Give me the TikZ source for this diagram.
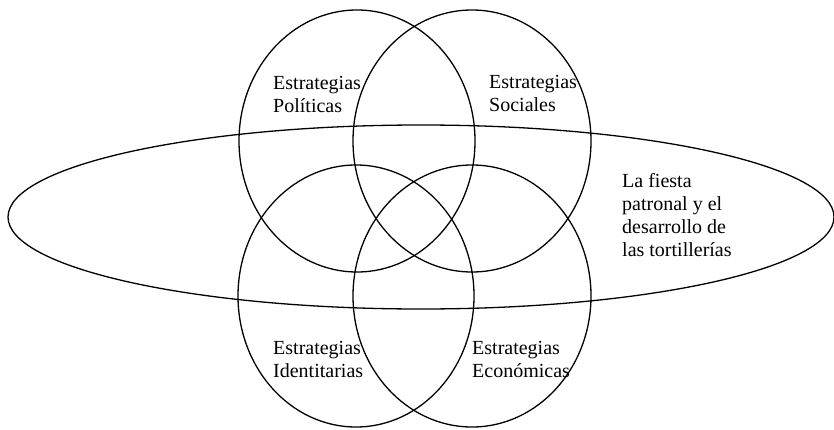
\documentclass[tikz,border=0pt]{standalone}
\usepackage{fontspec}
\setmainfont{Liberation Serif}
\usetikzlibrary{shapes.geometric}
\begin{document}
\begin{tikzpicture}[x=1pt,y=1pt,
  ring/.style={draw=black, line width=1.3pt, ellipse, inner sep=0pt, outer sep=0pt},
  lbl/.style={anchor=base west, align=left, inner sep=0pt, font=\fontsize{20}{23}\selectfont}]
\useasboundingbox (0,0) rectangle (834,429);
\node[ring, minimum width=826pt, minimum height=184pt] (fiesta) at (421,212) {};
\node[ring, minimum width=236pt, minimum height=262pt] (pol) at (357,288) {};
\node[ring, minimum width=238pt, minimum height=262pt] (soc) at (472,288) {};
\node[ring, minimum width=236pt, minimum height=262pt] (ide) at (356,133) {};
\node[ring, minimum width=238pt, minimum height=262pt] (eco) at (472,133) {};
\node[lbl] (tpol) at (273,316) {Estrategias\\Políticas};
\node[lbl] (tsoc) at (489,317) {Estrategias\\Sociales};
\node[lbl] (tide) at (273,52) {Estrategias\\Identitarias};
\node[lbl] (teco) at (472,52) {Estrategias\\Económicas};
\node[lbl] (tfie) at (622,173) {La fiesta\\patronal y el\\desarrollo de\\las tortillerías};
\end{tikzpicture}
\end{document}
